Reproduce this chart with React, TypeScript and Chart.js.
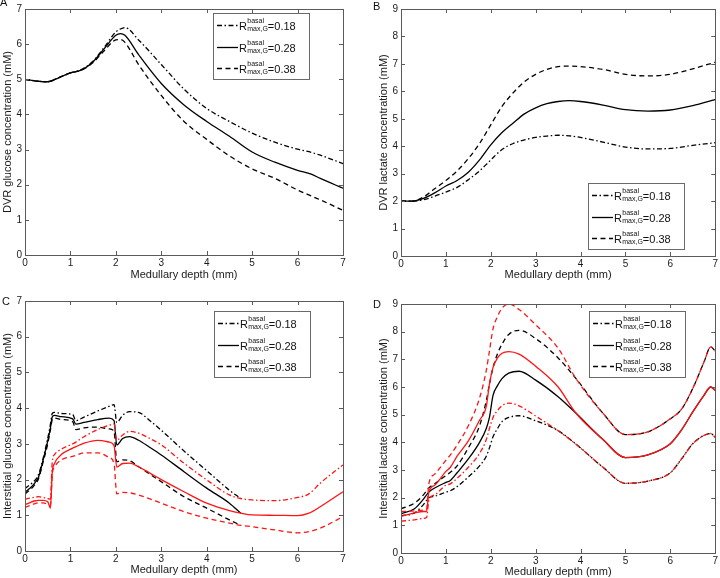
import React, { useEffect, useRef } from 'react';
import { Chart, registerables } from 'chart.js';

Chart.register(...registerables);

const FONT = '"Liberation Sans", Arial, Helvetica, sans-serif';
const RED = '#ff1414';
const BLACK = '#000000';
const DASH = [5, 3.5];
const DASHDOT = [5, 2.5, 1.5, 2.5];
const SOLID: number[] = [];

// ---------- Panel A: DVR glucose ----------
const depthA = [0, 0.25, 0.5, 0.75, 1, 1.25, 1.5, 1.75, 2, 2.1, 2.2, 2.5, 3, 3.5, 4, 4.5, 5, 5.5, 6, 6.3, 6.5, 7];
const glucoseDVR018 = [5.0, 4.95, 4.93, 5.05, 5.18, 5.28, 5.52, 5.92, 6.35, 6.43, 6.47, 6.12, 5.42, 4.72, 4.17, 3.8, 3.47, 3.21, 3.01, 2.92, 2.84, 2.6];
const glucoseDVR028 = [5.0, 4.95, 4.93, 5.05, 5.18, 5.27, 5.5, 5.88, 6.25, 6.3, 6.25, 5.7, 4.88, 4.27, 3.8, 3.38, 2.93, 2.64, 2.41, 2.3, 2.18, 1.9];
const glucoseDVR038 = [5.0, 4.95, 4.93, 5.05, 5.18, 5.26, 5.48, 5.82, 6.12, 6.13, 6.05, 5.42, 4.54, 3.8, 3.29, 2.82, 2.45, 2.18, 1.85, 1.68, 1.57, 1.27];

// ---------- Panel B: DVR lactate ----------
const depthB = [0, 0.25, 0.5, 0.75, 1, 1.25, 1.5, 1.75, 2, 2.25, 2.5, 2.75, 3, 3.25, 3.5, 3.75, 4, 4.5, 5, 5.5, 6, 6.5, 7];
const lactateDVR018 = [2.0, 2.0, 2.05, 2.18, 2.33, 2.5, 2.78, 3.1, 3.5, 3.88, 4.1, 4.23, 4.32, 4.37, 4.4, 4.38, 4.32, 4.15, 3.97, 3.9, 3.92, 4.03, 4.13];
const lactateDVR028 = [2.0, 2.0, 2.1, 2.3, 2.55, 2.75, 3.05, 3.5, 4.05, 4.5, 4.85, 5.18, 5.4, 5.55, 5.63, 5.66, 5.63, 5.5, 5.33, 5.28, 5.32, 5.48, 5.7];
const lactateDVR038 = [2.0, 2.0, 2.15, 2.45, 2.75, 3.1, 3.55, 4.1, 4.78, 5.45, 5.95, 6.35, 6.62, 6.8, 6.9, 6.92, 6.9, 6.8, 6.62, 6.56, 6.62, 6.82, 7.06];

// ---------- Panel C: interstitial glucose ----------
const depthC = [0, 0.1, 0.2, 0.3, 0.4, 0.5, 0.56, 0.6, 0.65, 0.8, 1.05, 1.12, 1.3, 1.6, 1.85, 1.96, 2.02, 2.15, 2.3, 2.5, 2.75, 3, 3.5, 4, 4.5, 4.75, 5, 5.5, 6, 6.25, 6.5, 7];
// black curves stop where they join the red ones (~4.75 mm)
const glucoseIntBlack018 = [1.75, 1.85, 1.95, 2.15, 2.6, 3.15, 3.55, 3.85, 3.88, 3.85, 3.82, 3.65, 3.75, 3.92, 4.05, 4.1, 3.6, 3.8, 3.9, 3.88, 3.65, 3.38, 2.8, 2.25, 1.7, 1.47];
const glucoseIntBlack028 = [1.65, 1.75, 1.88, 2.08, 2.55, 3.08, 3.45, 3.75, 3.8, 3.76, 3.7, 3.55, 3.6, 3.68, 3.72, 3.65, 2.97, 3.15, 3.2, 3.1, 2.9, 2.69, 2.22, 1.76, 1.34, 1.06];
const glucoseIntBlack038 = [1.6, 1.7, 1.83, 2.03, 2.5, 3.0, 3.4, 3.68, 3.72, 3.68, 3.62, 3.4, 3.45, 3.47, 3.42, 3.35, 2.5, 2.55, 2.53, 2.36, 2.15, 1.94, 1.52, 1.2, 0.87, 0.72];
const glucoseIntRed018 = [1.45, 1.48, 1.5, 1.52, 1.5, 1.47, 1.45, 2.5, 2.7, 2.85, 3.0, 3.05, 3.2, 3.4, 3.52, 3.56, 3.1, 3.25, 3.35, 3.3, 3.15, 2.97, 2.46, 1.99, 1.57, 1.47, 1.43, 1.41, 1.5, 1.6, 1.9, 2.41];
const glucoseIntRed028 = [1.3, 1.35, 1.4, 1.42, 1.42, 1.38, 1.2, 2.2, 2.45, 2.7, 2.88, 2.92, 3.02, 3.1, 3.05, 2.95, 2.35, 2.45, 2.46, 2.36, 2.18, 2.0, 1.66, 1.34, 1.13, 1.06, 1.01, 1.0, 0.99, 1.06, 1.24, 1.66];
const glucoseIntRed038 = [1.22, 1.27, 1.32, 1.35, 1.35, 1.3, 1.28, 2.15, 2.35, 2.55, 2.65, 2.68, 2.75, 2.75, 2.62, 2.45, 1.6, 1.64, 1.63, 1.57, 1.46, 1.34, 1.1, 0.92, 0.78, 0.72, 0.68, 0.59, 0.51, 0.54, 0.64, 0.96];

// ---------- Panel D: interstitial lactate ----------
const depthD = [0, 0.3, 0.5, 0.57, 0.62, 0.75, 1, 1.1, 1.25, 1.5, 1.75, 1.9, 1.97, 2.05, 2.15, 2.25, 2.4, 2.63, 3, 3.5, 3.9, 4.5, 5, 5.5, 6, 6.25, 6.5, 6.75, 6.9, 7];
const lactateIntBlack018 = [1.35, 1.45, 1.75, 1.9, 2.0, 2.05, 2.2, 2.25, 2.4, 2.75, 3.15, 3.5, 3.8, 4.2, 4.5, 4.75, 4.9, 4.96, 4.78, 4.42, 3.93, 3.1, 2.52, 2.6, 2.9, 3.4, 3.95, 4.25, 4.32, 4.18];
const lactateIntBlack028 = [1.42, 1.6, 1.95, 2.1, 2.2, 2.35, 2.55, 2.62, 2.9, 3.4, 4.0, 4.5, 4.9, 5.7, 6.05, 6.3, 6.5, 6.57, 6.25, 5.65, 5.05, 4.1, 3.45, 3.55, 3.95, 4.45, 5.1, 5.7, 6.0, 5.88];
const lactateIntBlack038 = [1.6, 1.8, 2.1, 2.25, 2.35, 2.5, 2.8, 2.92, 3.15, 3.8, 4.6, 5.5, 6.1, 6.7, 7.2, 7.55, 7.9, 8.05, 7.75, 7.05, 6.3, 5.05, 4.28, 4.38, 4.85, 5.2, 5.95, 6.9, 7.45, 7.3];
const lactateIntRed018 = [1.15, 1.2, 1.25, 1.28, 1.9, 2.1, 2.45, 2.5, 2.7, 3.1, 3.6, 4.1, 4.5, 4.9, 5.15, 5.32, 5.42, 5.32, 4.95, 4.42, 3.93, 3.1, 2.52, 2.6, 2.9, 3.4, 3.95, 4.25, 4.32, 4.18];
const lactateIntRed028 = [1.32, 1.45, 1.5, 1.5, 2.2, 2.45, 2.95, 3.1, 3.5, 4.05, 4.8, 5.3, 6.1, 6.7, 7.05, 7.22, 7.28, 7.19, 6.75, 6.0, 5.05, 4.1, 3.45, 3.55, 3.95, 4.45, 5.1, 5.7, 6.0, 5.88];
const lactateIntRed038 = [1.5, 1.52, 1.55, 1.58, 2.5, 2.85, 3.35, 3.55, 3.9, 4.6, 5.6, 6.6, 7.3, 8.1, 8.55, 8.85, 9.0, 8.8, 8.25, 7.4, 6.3, 5.05, 4.28, 4.38, 4.85, 5.2, 5.95, 6.9, 7.45, 7.3];

const legendValues = ['0.18', '0.28', '0.38'];
const legendDashes = [DASHDOT, SOLID, DASH];
const xTicks = [0, 1, 2, 3, 4, 5, 6, 7];

type SeriesDef = { xs: number[]; ys: number[]; color: string; dash: number[]; label: string };
type PanelDef = {
  left: number; top: number; w: number; h: number;
  plot: { l: number; t: number; r: number; b: number };
  yMax: number; yTitle: string; letter: string; letterPos: [number, number];
  legend: [number, number];
  xTitleCenter: number; yTitleCenter: number;
  series: SeriesDef[];
};

const panels: PanelDef[] = [
  {
    left: 0, top: 0, w: 360, h: 289, plot: { l: 25, t: 3, r: 343, b: 255 },
    yMax: 7, yTitle: 'DVR glucose concentration (mM)', letter: 'A', letterPos: [0, 3],
    legend: [213, 13], xTitleCenter: 275, yTitleCenter: 8,
    series: [
      { xs: depthA, ys: glucoseDVR018, color: BLACK, dash: DASHDOT, label: 'R=0.18' },
      { xs: depthA, ys: glucoseDVR028, color: BLACK, dash: SOLID, label: 'R=0.28' },
      { xs: depthA, ys: glucoseDVR038, color: BLACK, dash: DASH, label: 'R=0.38' },
    ],
  },
  {
    left: 360, top: 0, w: 360, h: 289, plot: { l: 41, t: 7, r: 357, b: 256 },
    yMax: 9, yTitle: 'DVR lactate concentration (mM)', letter: 'B', letterPos: [13, 6.5],
    legend: [228, 183], xTitleCenter: 275, yTitleCenter: 24,
    series: [
      { xs: depthB, ys: lactateDVR018, color: BLACK, dash: DASHDOT, label: 'R=0.18' },
      { xs: depthB, ys: lactateDVR028, color: BLACK, dash: SOLID, label: 'R=0.28' },
      { xs: depthB, ys: lactateDVR038, color: BLACK, dash: DASH, label: 'R=0.38' },
    ],
  },
  {
    left: 0, top: 289, w: 360, h: 289, plot: { l: 25, t: 12, r: 343, b: 262 },
    yMax: 7, yTitle: 'Interstitial glucose concentration (mM)', letter: 'C', letterPos: [2, 12.5],
    legend: [214, 22], xTitleCenter: 281, yTitleCenter: 8,
    series: [
      { xs: depthC, ys: glucoseIntRed018, color: RED, dash: DASHDOT, label: 'red 0.18' },
      { xs: depthC, ys: glucoseIntRed028, color: RED, dash: SOLID, label: 'red 0.28' },
      { xs: depthC, ys: glucoseIntRed038, color: RED, dash: DASH, label: 'red 0.38' },
      { xs: depthC, ys: glucoseIntBlack018, color: BLACK, dash: DASHDOT, label: 'R=0.18' },
      { xs: depthC, ys: glucoseIntBlack028, color: BLACK, dash: SOLID, label: 'R=0.28' },
      { xs: depthC, ys: glucoseIntBlack038, color: BLACK, dash: DASH, label: 'R=0.38' },
    ],
  },
  {
    left: 360, top: 289, w: 360, h: 289, plot: { l: 41, t: 15, r: 357, b: 264 },
    yMax: 9, yTitle: 'Interstitial lactate concentration (mM)', letter: 'D', letterPos: [13, 15.5],
    legend: [229, 22], xTitleCenter: 283, yTitleCenter: 24,
    series: [
      { xs: depthD, ys: lactateIntRed018, color: RED, dash: DASHDOT, label: 'red 0.18' },
      { xs: depthD, ys: lactateIntRed028, color: RED, dash: SOLID, label: 'red 0.28' },
      { xs: depthD, ys: lactateIntRed038, color: RED, dash: DASH, label: 'red 0.38' },
      { xs: depthD, ys: lactateIntBlack018, color: BLACK, dash: DASHDOT, label: 'R=0.18' },
      { xs: depthD, ys: lactateIntBlack028, color: BLACK, dash: SOLID, label: 'R=0.28' },
      { xs: depthD, ys: lactateIntBlack038, color: BLACK, dash: DASH, label: 'R=0.38' },
    ],
  },
];

const framePlugin = {
  id: 'matlabFrame',
  afterDraw(chart: any, _args: any, opts: any) {
    const ctx: CanvasRenderingContext2D = chart.ctx;
    const { left, top, right, bottom } = chart.chartArea;
    const xs = chart.scales.x;
    const ys = chart.scales.y;
    const TL = 4;
    ctx.save();
    ctx.strokeStyle = '#5a5a5a';
    ctx.lineWidth = 1;
    ctx.setLineDash([]);
    ctx.beginPath();
    xs.ticks.forEach((t: any) => {
      const px = Math.round(xs.getPixelForValue(t.value)) + 0.5;
      ctx.moveTo(px, bottom); ctx.lineTo(px, bottom - TL);
      ctx.moveTo(px, top); ctx.lineTo(px, top + TL);
    });
    ys.ticks.forEach((t: any) => {
      const py = Math.round(ys.getPixelForValue(t.value)) + 0.5;
      ctx.moveTo(left, py); ctx.lineTo(left + TL, py);
      ctx.moveTo(right, py); ctx.lineTo(right - TL, py);
    });
    ctx.stroke();
    ctx.strokeRect(Math.round(left) + 0.5, Math.round(top) + 0.5, Math.round(right - left), Math.round(bottom - top));

    // legend box
    const [lx, ly] = opts.legend;
    const w = 96, h = 66;
    ctx.fillStyle = '#ffffff';
    ctx.fillRect(lx, ly, w, h);
    ctx.strokeStyle = '#6a6a6a';
    ctx.strokeRect(lx + 0.5, ly + 0.5, w, h);
    const rows = [12, 34, 55];
    rows.forEach((off, i) => {
      const cy = ly + off + 0.5;
      ctx.save();
      ctx.strokeStyle = '#000';
      ctx.lineWidth = 1.3;
      ctx.setLineDash(legendDashes[i]);
      ctx.beginPath();
      ctx.moveTo(lx + 4, cy);
      ctx.lineTo(lx + 25, cy);
      ctx.stroke();
      ctx.restore();
      ctx.fillStyle = '#111';
      ctx.textBaseline = 'alphabetic';
      ctx.textAlign = 'left';
      ctx.font = `11px ${FONT}`;
      ctx.fillText('R', lx + 26, cy + 4);
      const rw = ctx.measureText('R').width;
      const sx = lx + 26 + rw + 0.3;
      ctx.font = `7px ${FONT}`;
      ctx.fillText('basal', sx, cy - 2.5);
      ctx.fillText('max,G', sx, cy + 5.5);
      const sw = Math.max(ctx.measureText('basal').width, ctx.measureText('max,G').width);
      ctx.font = `11px ${FONT}`;
      ctx.fillText('=' + legendValues[i], sx + sw, cy + 4);
    });

    // panel letter
    ctx.fillStyle = '#111';
    ctx.font = `11px ${FONT}`;
    ctx.textBaseline = 'middle';
    ctx.textAlign = 'left';
    ctx.fillText(opts.letter, opts.letterPos[0], opts.letterPos[1]);
    ctx.restore();
  },
};

function Panel({ def }: { def: PanelDef }) {
  const ref = useRef<HTMLCanvasElement | null>(null);
  useEffect(() => {
    const canvas = ref.current;
    if (!canvas) return;
    const { w, h, plot } = def;
    const xTitlePad = h - def.xTitleCenter - 6.6;
    const yTitlePad = def.yTitleCenter - 6.6;
    const chart = new Chart(canvas, {
      type: 'line',
      data: {
        datasets: def.series.map((s) => ({
          label: s.label,
          data: s.ys.map((y, i) => ({ x: s.xs[i], y })),
          borderColor: s.color,
          backgroundColor: s.color,
          borderDash: s.dash,
          borderWidth: 1.3,
          pointRadius: 0,
          fill: false,
          cubicInterpolationMode: 'monotone' as const,
        })),
      },
      options: {
        animation: false,
        responsive: false,
        maintainAspectRatio: false,
        devicePixelRatio: 1,
        layout: { autoPadding: false, padding: { left: 0, top: plot.t, right: w - plot.r, bottom: 0 } },
        plugins: {
          legend: { display: false },
          tooltip: { enabled: false },
          // @ts-ignore
          matlabFrame: { legend: def.legend, letter: def.letter, letterPos: def.letterPos },
        },
        scales: {
          x: {
            type: 'linear',
            min: 0,
            max: 7,
            afterFit: (s: any) => { s.height = h - plot.b; },
            afterBuildTicks: (s: any) => { s.ticks = xTicks.map((v) => ({ value: v })); },
            grid: { display: false, drawTicks: false },
            border: { display: false },
            ticks: { padding: 2, color: '#1a1a1a', font: { family: FONT, size: 10 }, maxRotation: 0, autoSkip: false },
            title: { display: true, text: 'Medullary depth (mm)', color: '#1a1a1a', font: { family: FONT, size: 11 }, padding: { top: 0, bottom: xTitlePad } },
          },
          y: {
            type: 'linear',
            min: 0,
            max: def.yMax,
            afterFit: (s: any) => { s.width = plot.l; },
            grid: { display: false, drawTicks: false },
            border: { display: false },
            ticks: { stepSize: 1, padding: 3, color: '#1a1a1a', font: { family: FONT, size: 10 }, autoSkip: false },
            title: { display: true, text: def.yTitle, color: '#1a1a1a', font: { family: FONT, size: 11 }, padding: { top: yTitlePad, bottom: 0 } },
          },
        },
      },
      plugins: [framePlugin],
    } as any);
    return () => chart.destroy();
  }, [def]);
  return (
    <canvas
      ref={ref}
      width={def.w}
      height={def.h}
      style={{ position: 'absolute', left: def.left, top: def.top, width: def.w, height: def.h }}
    />
  );
}

export default function App() {
  return (
    <div style={{ position: 'absolute', left: 0, top: 0, width: 720, height: 578, overflow: 'hidden', background: '#ffffff' }}>
      {panels.map((p) => (
        <Panel key={p.letter} def={p} />
      ))}
    </div>
  );
}
